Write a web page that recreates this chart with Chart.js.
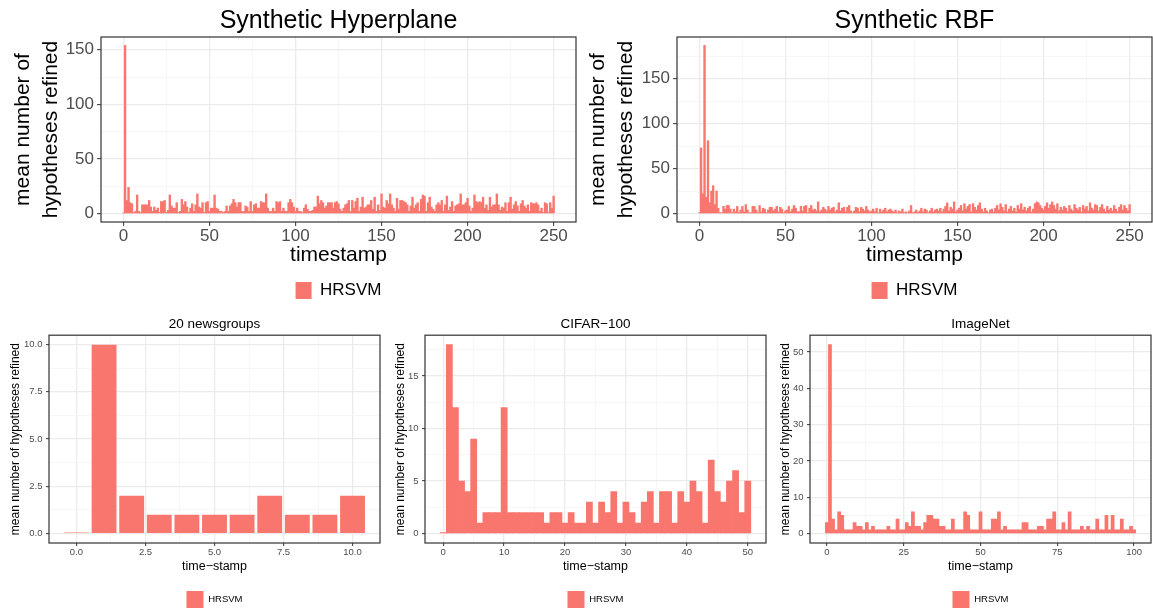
<!DOCTYPE html>
<html>
<head>
<meta charset="utf-8">
<script src="https://cdn.jsdelivr.net/npm/chart.js@4.4.1/dist/chart.umd.min.js"></script>
<style>
  html, body { margin: 0; padding: 0; background: #fff; overflow: hidden; }
  body { width: 1153px; height: 611px; position: relative; }
  canvas { position: absolute; }
</style>
</head>
<body>
<canvas id="hyper" width="580" height="309" style="left:0;top:0"></canvas>
<canvas id="rbf" width="573" height="309" style="left:580px;top:0"></canvas>
<canvas id="news" width="385" height="313" style="left:0;top:305px"></canvas>
<canvas id="cifar" width="385" height="313" style="left:385px;top:305px"></canvas>
<canvas id="imagenet" width="383" height="313" style="left:770px;top:305px"></canvas>
<script>
// values per timestamp (index = timestamp)
const hyperValues = [
  0.5, 154, 12, 24, 10, 9, 1, 2, 17, 2,
  1, 8, 8, 8, 8, 12, 6, 2, 6, 3,
  5, 1, 11, 11, 12, 1, 3, 17, 7, 5,
  5, 10, 1, 2, 13, 8, 11, 6, 1, 5,
  9, 2, 8, 18, 6, 5, 10, 1, 10, 11,
  2, 5, 5, 17, 5, 4, 2, 2, 1, 2,
  7, 2, 7, 9, 13, 10, 6, 10, 10, 2,
  2, 7, 6, 2, 11, 2, 8, 9, 5, 5,
  11, 10, 10, 18, 5, 2, 2, 5, 2, 11,
  10, 11, 2, 5, 2, 2, 10, 13, 10, 6,
  2, 5, 2, 2, 1, 5, 8, 4, 2, 2,
  3, 6, 6, 16, 9, 12, 10, 5, 7, 10,
  10, 10, 5, 10, 11, 9, 4, 2, 5, 8,
  9, 12, 2, 12, 5, 11, 14, 2, 6, 15,
  5, 6, 8, 8, 12, 4, 15, 2, 8, 3,
  18, 6, 5, 12, 9, 18, 8, 5, 2, 14,
  4, 12, 12, 11, 10, 8, 2, 7, 15, 5,
  8, 10, 2, 13, 17, 16, 2, 10, 15, 6,
  4, 2, 8, 10, 8, 12, 2, 8, 16, 3,
  6, 11, 2, 7, 8, 9, 18, 8, 8, 10,
  14, 7, 2, 5, 17, 11, 10, 11, 10, 15,
  5, 8, 3, 15, 6, 8, 8, 18, 8, 3,
  6, 5, 10, 2, 10, 15, 4, 8, 11, 7,
  2, 9, 12, 7, 5, 8, 2, 10, 9, 9,
  10, 8, 2, 5, 1, 10, 9, 1, 10, 5,
  16
];
const rbfValues = [
  1, 73, 22, 187, 18, 81, 12, 25, 31, 10,
  25, 6, 1, 1, 8, 5, 9, 9, 5, 1,
  5, 2, 8, 1, 4, 8, 2, 10, 4, 1,
  1, 8, 8, 4, 1, 9, 2, 6, 5, 1,
  4, 7, 7, 3, 5, 8, 2, 7, 5, 1,
  3, 4, 8, 2, 5, 9, 6, 2, 2, 8,
  3, 8, 9, 1, 6, 9, 4, 5, 3, 13,
  2, 4, 7, 5, 3, 8, 4, 6, 7, 2,
  4, 12, 3, 6, 7, 2, 7, 9, 3, 1,
  3, 7, 6, 2, 7, 5, 3, 8, 4, 2,
  3, 5, 2, 6, 1, 5, 2, 4, 6, 2,
  4, 5, 3, 2, 4, 1, 3, 2, 5, 1,
  2, 1, 3, 9, 1, 2, 4, 1, 3, 6,
  2, 5, 4, 1, 3, 6, 2, 4, 5, 3,
  6, 2, 5, 8, 12, 3, 7, 5, 13, 2,
  4, 6, 9, 3, 11, 5, 8, 10, 2, 11,
  7, 4, 9, 12, 5, 2, 6, 3, 1, 4,
  5, 2, 6, 9, 4, 11, 7, 3, 10, 2,
  5, 8, 3, 6, 2, 9, 5, 11, 4, 7,
  3, 6, 8, 2, 5, 11, 13, 12, 9, 6,
  4, 8, 12, 6, 10, 13, 9, 5, 11, 3,
  7, 4, 8, 6, 2, 9, 5, 3, 10, 6,
  4, 7, 2, 9, 5, 8, 3, 12, 6, 4,
  10, 9, 3, 7, 10, 5, 2, 8, 4, 6,
  3, 9, 5, 2, 7, 10, 4, 9, 6, 3,
  10
];
const newsValues = [0.05, 10, 2, 1, 1, 1, 1, 2, 1, 1, 2];
const cifarValues = [
  0.1, 18, 12, 5, 4, 9, 1, 2, 2, 2,
  12, 2, 2, 2, 2, 2, 2, 1, 2, 2,
  1, 2, 1, 1, 3, 1, 3, 2, 4, 1,
  3, 2, 1, 3, 4, 1, 4, 4, 1, 4,
  3, 5, 4, 1, 7, 4, 3, 5, 6, 2,
  5
];
const imagenetValues = [
  3, 52, 4, 1, 6, 5, 1, 1, 1, 3,
  2, 2, 1, 3, 1, 2, 1, 1, 1, 1,
  2, 1, 1, 4, 1, 1, 3, 2, 6, 2,
  2, 1, 3, 5, 5, 4, 4, 2, 2, 1,
  1, 4, 1, 1, 1, 6, 5, 1, 1, 1,
  6, 1, 1, 1, 4, 4, 6, 1, 2, 1,
  1, 1, 1, 1, 3, 3, 1, 1, 1, 2,
  2, 1, 4, 4, 6, 1, 1, 3, 1, 6,
  1, 1, 1, 2, 1, 2, 1, 1, 4, 1,
  1, 5, 1, 5, 1, 1, 4, 1, 1, 2,
  1
];

// tick labels
const synthXTicks = [0, 50, 100, 150, 200, 250];
const synthYTicks = [0, 50, 100, 150];
const newsTicks = [0, 2.5, 5, 7.5, 10];
const cifarXTicks = [0, 10, 20, 30, 40, 50];
const cifarYTicks = [0, 5, 10, 15];
const imagenetXTicks = [0, 25, 50, 75, 100];
const imagenetYTicks = [0, 10, 20, 30, 40, 50];

const seriesName = 'HRSVM';
const barColor = '#F8766D';

Chart.defaults.font.family = '"Liberation Sans", Arial, sans-serif';

// ggplot-like 5% expansion of the data range
function expand(lo, hi) {
  const d = (hi - lo) * 0.05;
  return [lo - d, hi + d];
}

// major ticks plus the minor ones half way between them
function withMinor(major, lo, hi) {
  const half = (major[1] - major[0]) / 2;
  const out = new Set();
  major.forEach(m => {
    [m - half, m, m + half].forEach(v => { if (v >= lo && v <= hi) out.add(v); });
  });
  return [...out].sort((a, b) => a - b);
}

const isMajor = (list, v) => list.some(m => Math.abs(m - v) < 1e-9);

// grey20 box round the panel, as theme_bw does
const panelBorder = {
  id: 'panelBorder',
  afterDatasetsDraw(chart) {
    const { ctx, chartArea: a } = chart;
    ctx.save();
    ctx.strokeStyle = '#333333';
    ctx.lineWidth = 1.2;
    ctx.strokeRect(a.left, a.top, a.right - a.left, a.bottom - a.top);
    ctx.restore();
  }
};

const bigStyle = {
  titleSize: 25, titlePad: { top: 6, bottom: 1 },
  tickSize: 17, tickLen: 4, xTickPad: 0, yTickPad: 3,
  xTitleSize: 21, yTitleSize: 21, yTitleLine: 28 / 21, xTitlePadBottom: 10.4,
  xAxisHeight: 56, legendSize: 17, boxW: 16, boxH: 17
};
const smallStyle = {
  titleSize: 13.5, titlePad: { top: 11, bottom: 3 },
  tickSize: 9.5, tickLen: 3, xTickPad: 1, yTickPad: 3.5,
  xTitleSize: 12.5, yTitleSize: 12, yTitleLine: 1.2, xTitlePadBottom: 13,
  xAxisHeight: 44, legendSize: 9.5, boxW: 17, boxH: 17
};

function makePanel(id, values, spec, style) {
  const xr = expand(-0.45, values.length - 0.55);
  const yr = expand(0, Math.max(...values));
  const xAll = withMinor(spec.xTicks, xr[0], xr[1]);
  const yAll = withMinor(spec.yTicks, yr[0], yr[1]);
  const fmt = v => v.toFixed(spec.decimals || 0);

  const gridFor = list => ({
    offset: false,
    color: c => isMajor(list, c.tick.value) ? '#EBEBEB' : '#F4F4F4',
    lineWidth: c => isMajor(list, c.tick.value) ? 1.3 : 0.8,
    tickColor: c => isMajor(list, c.tick.value) ? '#333333' : 'rgba(0,0,0,0)',
    tickLength: style.tickLen,
    tickWidth: 1
  });

  new Chart(document.getElementById(id), {
    type: 'bar',
    data: {
      datasets: [{
        label: seriesName,
        data: values.map((v, i) => ({ x: i, y: v })),
        backgroundColor: barColor,
        borderWidth: 0,
        barPercentage: spec.barWidth,
        categoryPercentage: 1
      }]
    },
    options: {
      responsive: false,
      animation: false,
      devicePixelRatio: 1,
      layout: { padding: { left: 0, right: spec.padRight, top: 0, bottom: 0 } },
      plugins: {
        tooltip: { enabled: false },
        title: {
          display: true,
          text: spec.title,
          fullSize: false,
          color: '#000',
          font: { size: style.titleSize, weight: 'normal', lineHeight: 1.2 },
          padding: style.titlePad
        },
        legend: {
          position: 'bottom',
          fullSize: false,
          labels: {
            color: '#000',
            font: { size: style.legendSize },
            boxWidth: style.boxW,
            boxHeight: style.boxH,
            padding: 4
          }
        }
      },
      scales: {
        x: {
          type: 'linear',
          min: xr[0],
          max: xr[1],
          offset: false,
          afterBuildTicks: sc => { sc.ticks = xAll.map(v => ({ value: v })); },
          afterFit: sc => { sc.height = style.xAxisHeight; },
          grid: gridFor(spec.xTicks),
          border: { display: false },
          ticks: {
            autoSkip: false,
            maxRotation: 0,
            padding: style.xTickPad,
            color: '#4D4D4D',
            font: { size: style.tickSize },
            callback: v => isMajor(spec.xTicks, v) ? fmt(v) : ''
          },
          title: {
            display: true,
            text: spec.xTitle,
            color: '#000',
            font: { size: style.xTitleSize, lineHeight: 1.2 },
            padding: { top: 0, bottom: style.xTitlePadBottom }
          }
        },
        y: {
          type: 'linear',
          min: yr[0],
          max: yr[1],
          afterBuildTicks: sc => { sc.ticks = yAll.map(v => ({ value: v })); },
          afterFit: sc => { sc.width = spec.yAxisWidth; },
          grid: gridFor(spec.yTicks),
          border: { display: false },
          ticks: {
            autoSkip: false,
            padding: style.yTickPad,
            color: '#4D4D4D',
            font: { size: style.tickSize },
            callback: v => isMajor(spec.yTicks, v) ? fmt(v) : ''
          },
          title: {
            display: true,
            text: spec.yTitle,
            color: '#000',
            font: { size: style.yTitleSize, lineHeight: style.yTitleLine },
            padding: { top: spec.yTitlePad, bottom: 0 }
          }
        }
      }
    },
    plugins: [panelBorder]
  });
}

const synthYTitle = ['mean number of', 'hypotheses refined'];
const smallYTitle = 'mean number of hypotheses refined';

makePanel('hyper', hyperValues, {
  title: 'Synthetic Hyperplane', xTitle: 'timestamp', yTitle: synthYTitle,
  xTicks: synthXTicks, yTicks: synthYTicks, barWidth: 1,
  yAxisWidth: 101, padRight: 4, yTitlePad: 9
}, bigStyle);

makePanel('rbf', rbfValues, {
  title: 'Synthetic RBF', xTitle: 'timestamp', yTitle: synthYTitle,
  xTicks: synthXTicks, yTicks: synthYTicks, barWidth: 1,
  yAxisWidth: 97, padRight: 1, yTitlePad: 4
}, bigStyle);

makePanel('news', newsValues, {
  title: '20 newsgroups', xTitle: 'time\u2212stamp', yTitle: smallYTitle,
  xTicks: newsTicks, yTicks: newsTicks, barWidth: 0.9, decimals: 1,
  yAxisWidth: 49, padRight: 5, yTitlePad: 8.8
}, smallStyle);

makePanel('cifar', cifarValues, {
  title: 'CIFAR\u2212100', xTitle: 'time\u2212stamp', yTitle: smallYTitle,
  xTicks: cifarXTicks, yTicks: cifarYTicks, barWidth: 1,
  yAxisWidth: 40, padRight: 4, yTitlePad: 8.8
}, smallStyle);

makePanel('imagenet', imagenetValues, {
  title: 'ImageNet', xTitle: 'time\u2212stamp', yTitle: smallYTitle,
  xTicks: imagenetXTicks, yTicks: imagenetYTicks, barWidth: 1,
  yAxisWidth: 40, padRight: 2, yTitlePad: 8.8
}, smallStyle);
</script>
</body>
</html>
